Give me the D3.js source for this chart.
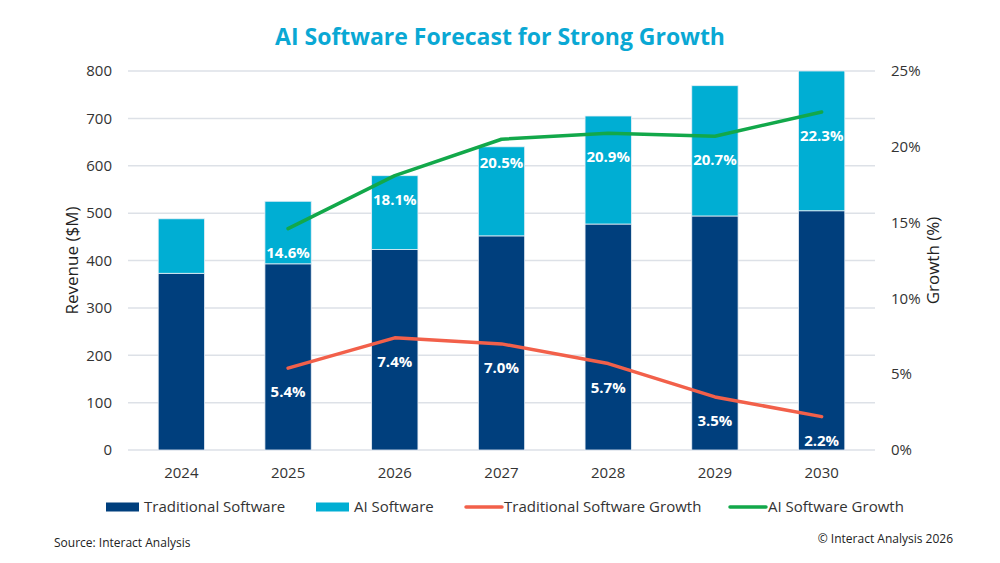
<!DOCTYPE html>
<html>
<head>
<meta charset="utf-8">
<script src="https://cdn.jsdelivr.net/npm/d3@7"></script>
<style>
  body { margin: 0; background: #fff; }
  svg text { font-family: "Open Sans", "Noto Sans", sans-serif; }
</style>
</head>
<body>
<script>
// chart data
const years = ["2024", "2025", "2026", "2027", "2028", "2029", "2030"];
const traditional = [373, 393, 423, 452, 477, 494, 505];
const aiSoftware = [115, 132, 156, 188, 228, 275, 295];
const growthYears = ["2025", "2026", "2027", "2028", "2029", "2030"];
const traditionalGrowth = [5.4, 7.4, 7.0, 5.7, 3.5, 2.2];
const aiGrowth = [14.6, 18.1, 20.5, 20.9, 20.7, 22.3];
const leftTicks = [0, 100, 200, 300, 400, 500, 600, 700, 800];
const rightTicks = [0, 5, 10, 15, 20, 25];

const colors = {
  trad: "#003f7d",
  ai: "#00aed3",
  tradGrowth: "#f2604a",
  aiGrowth: "#12a84a"
};

var width = 1000, height = 563;
var margin = { top: 71, right: 125, bottom: 113, left: 128 };

var svg = d3.select("body").append("svg")
    .attr("width", width)
    .attr("height", height);

var x = d3.scaleBand()
    .domain(years)
    .range([margin.left, width - margin.right])
    .paddingInner(0.566)
    .paddingOuter(0.283);

var y = d3.scaleLinear().domain([0, 800]).range([height - margin.bottom, margin.top]);
var y2 = d3.scaleLinear().domain([0, 25]).range([height - margin.bottom, margin.top]);

// gridlines
svg.append("g").selectAll("line")
  .data(leftTicks)
  .join("line")
    .attr("x1", margin.left)
    .attr("x2", width - margin.right)
    .attr("y1", d => y(d))
    .attr("y2", d => y(d))
    .attr("stroke", "#dde1e7")
    .attr("stroke-width", 1.5);

// stacked bars
var rows = years.map((yr, i) => ({ year: yr, trad: traditional[i], ai: aiSoftware[i] }));
var stack = d3.stack().keys(["trad", "ai"])(rows);

svg.append("g").selectAll("g")
  .data(stack)
  .join("g")
    .attr("fill", d => colors[d.key])
  .selectAll("rect")
  .data(d => d)
  .join("rect")
    .attr("x", d => x(d.data.year))
    .attr("width", x.bandwidth())
    .attr("y", d => y(d[1]))
    .attr("height", d => y(d[0]) - y(d[1]))
    .attr("stroke", "#e8eef5")
    .attr("stroke-width", 0.8);

// growth lines
var line = d3.line()
    .curve(d3.curveLinear)
    .x(d => x(d.year) + x.bandwidth() / 2)
    .y(d => y2(d.value));

var tradPts = growthYears.map((yr, i) => ({ year: yr, value: traditionalGrowth[i] }));
var aiPts = growthYears.map((yr, i) => ({ year: yr, value: aiGrowth[i] }));

[[tradPts, colors.tradGrowth], [aiPts, colors.aiGrowth]].forEach(([pts, c]) => {
  svg.append("path")
    .datum(pts)
    .attr("fill", "none")
    .attr("stroke", c)
    .attr("stroke-width", 3.5)
    .attr("stroke-linecap", "round")
    .attr("stroke-linejoin", "round")
    .attr("d", line);

  svg.append("g").selectAll("text")
    .data(pts)
    .join("text")
      .attr("x", d => x(d.year) + x.bandwidth() / 2)
      .attr("y", d => y2(d.value) + 24)
      .attr("dy", "0.35em")
      .attr("text-anchor", "middle")
      .attr("fill", "#fff")
      .attr("font-weight", 700)
      .attr("font-size", 15)
      .text(d => d.value.toFixed(1) + "%");
});

// axes
svg.append("g").selectAll("text")
  .data(leftTicks)
  .join("text")
    .attr("x", 112)
    .attr("y", d => y(d))
    .attr("dy", "0.35em")
    .attr("text-anchor", "end")
    .attr("font-size", 15)
    .attr("fill", "#333")
    .text(d => d);

svg.append("g").selectAll("text")
  .data(rightTicks)
  .join("text")
    .attr("x", 891)
    .attr("y", d => y2(d))
    .attr("dy", "0.35em")
    .attr("font-size", 15)
    .attr("fill", "#333")
    .text(d => d + "%");

svg.append("g").selectAll("text")
  .data(years)
  .join("text")
    .attr("x", d => x(d) + x.bandwidth() / 2)
    .attr("y", 473)
    .attr("dy", "0.35em")
    .attr("text-anchor", "middle")
    .attr("font-size", 15)
    .attr("fill", "#333")
    .text(d => d);

var midY = (y(0) + y(800)) / 2;
svg.append("text")
    .attr("transform", "translate(72," + midY + ") rotate(-90)")
    .attr("dy", "0.35em")
    .attr("text-anchor", "middle")
    .attr("font-size", 17)
    .attr("fill", "#222")
    .text("Revenue ($M)");

svg.append("text")
    .attr("transform", "translate(933," + midY + ") rotate(-90)")
    .attr("dy", "0.35em")
    .attr("text-anchor", "middle")
    .attr("font-size", 17)
    .attr("fill", "#222")
    .text("Growth (%)");

// title
svg.append("text")
    .attr("x", 500)
    .attr("y", 45)
    .attr("text-anchor", "middle")
    .attr("font-size", 23)
    .attr("font-weight", 700)
    .attr("fill", "#0aa8d4")
    .text("AI Software Forecast for Strong Growth");

// legend
var legend = [
  { label: "Traditional Software", color: colors.trad, type: "rect", x: 106 },
  { label: "AI Software", color: colors.ai, type: "rect", x: 316 },
  { label: "Traditional Software Growth", color: colors.tradGrowth, type: "line", x: 466 },
  { label: "AI Software Growth", color: colors.aiGrowth, type: "line", x: 730 }
];
var lg = svg.append("g").selectAll("g")
  .data(legend)
  .join("g")
    .attr("transform", d => "translate(" + d.x + ",507)");

lg.filter(d => d.type === "rect").append("rect")
    .attr("y", -4.5).attr("width", 33).attr("height", 9)
    .attr("fill", d => d.color);
lg.filter(d => d.type === "line").append("line")
    .attr("x1", 0).attr("x2", 36)
    .attr("stroke", d => d.color)
    .attr("stroke-width", 3.5)
    .attr("stroke-linecap", "round");
lg.append("text")
    .attr("x", 38)
    .attr("dy", "0.35em")
    .attr("font-size", 15)
    .attr("fill", "#333")
    .text(d => d.label);

// footer
svg.append("text")
    .attr("x", 54).attr("y", 543)
    .attr("dy", "0.35em")
    .attr("font-size", 12)
    .attr("fill", "#222")
    .text("Source: Interact Analysis");

svg.append("text")
    .attr("x", 953).attr("y", 539)
    .attr("dy", "0.35em")
    .attr("text-anchor", "end")
    .attr("font-size", 12)
    .attr("fill", "#222")
    .text("© Interact Analysis 2026");
</script>
</body>
</html>
